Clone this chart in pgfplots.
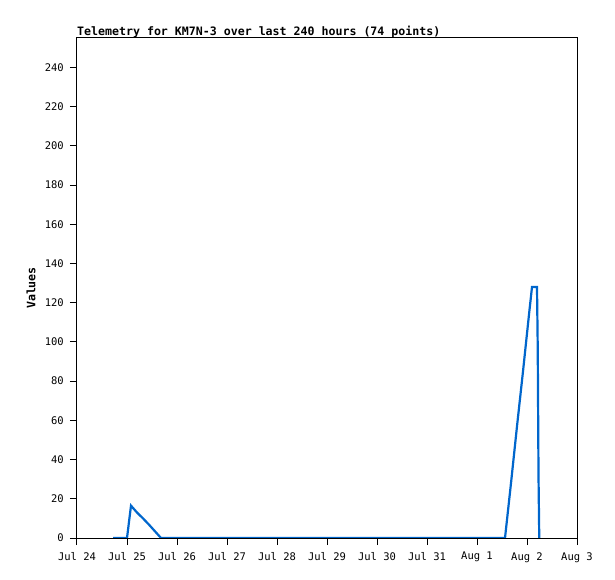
\documentclass[border=0pt]{standalone}
\usepackage{pgfplots}
\pgfplotsset{compat=1.18}
\usepackage{fontspec}
\setmainfont{DejaVu Sans Mono}
\setmonofont{DejaVu Sans Mono}
\definecolor{lineblue}{RGB}{0,102,204}
\begin{document}
\begin{tikzpicture}
\begin{axis}[
  width=500pt, height=500pt, scale only axis,
  xmin=0, xmax=10, ymin=0, ymax=255,
  xtick={0,1,2,3,4,5,6,7,8,9,10},
  xticklabels={Jul 24,Jul 25,Jul 26,Jul 27,Jul 28,Jul 29,Jul 30,Jul 31,Aug 1,Aug 2,Aug 3},
  ytick={0,20,40,60,80,100,120,140,160,180,200,220,240},
  tick align=outside, tick pos=left,
  major tick length=7pt,
  tick style={black, line width=1pt},
  axis line style={black, line width=1pt},
  axis on top,
  /pgf/number format/assume math mode=true,
  ticklabel style={font=\fontsize{10.5}{12}\selectfont},
  yticklabel style={inner sep=0pt, xshift=-6pt},
  xticklabel style={inner sep=0pt, yshift=-7pt},
  ylabel={Values},
  ylabel style={at={(axis description cs:-0.092,0.5)}, anchor=center, font=\bfseries\fontsize{11.6}{13}\selectfont},
  title={Telemetry for KM7N-3 over last 240 hours (74 points)},
  title style={at={(axis description cs:0,1)}, anchor=base west, yshift=-3.5pt, inner sep=0pt, font=\bfseries\fontsize{11.6}{13}\selectfont},
]
\addplot[lineblue, line width=2.2pt, line join=miter] coordinates {
(0.72,0) (1.0,0) (1.08,16.5) (1.2,13) (1.32,10) (1.44,6.8) (1.56,3.4) (1.68,0)
(2,0) (3,0) (4,0) (5,0) (6,0) (7,0) (8,0) (8.56,0)
(8.68,28) (8.8,57) (8.92,85) (9.04,114) (9.1,128) (9.2,128)
(9.215,96) (9.23,32) (9.245,0)
};
\end{axis}
\pgfresetboundingbox
\useasboundingbox (current axis.south west) ++(-77pt,-41pt) rectangle ++(615pt,579pt);
\end{tikzpicture}
\end{document}
